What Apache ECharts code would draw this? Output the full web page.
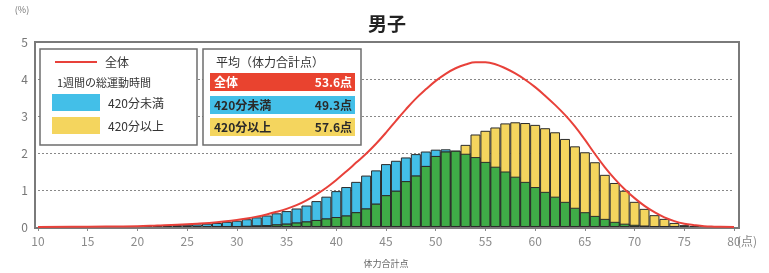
<!DOCTYPE html>
<html>
<head>
<meta charset="utf-8">
<script src="https://cdn.jsdelivr.net/npm/echarts@6/dist/echarts.min.js"></script>
<style>
  html, body { margin: 0; padding: 0; background: #fff; }
  #main { width: 769px; height: 273px; }
</style>
</head>
<body>
<div id="main"></div>
<script>
// 体力合計点 (x) と割合 % (y)
var scores = [18,19,20,21,22,23,24,25,26,27,28,29,30,31,32,33,34,35,36,37,38,39,40,41,42,43,44,45,46,47,
  48,49,50,51,52,53,54,55,56,57,58,59,60,61,62,63,64,65,66,67,68,69,70,71,72,73,74,75,76,77];
// 420分未満
var under420 = [0.01,0.01,0.02,0.02,0.03,0.04,0.05,0.06,0.07,0.09,0.11,0.14,0.17,0.21,0.26,0.31,0.37,0.43,0.50,0.58,
  0.70,0.82,0.97,1.08,1.22,1.39,1.53,1.70,1.79,1.88,1.97,2.04,2.09,2.10,2.06,1.98,1.89,1.76,1.63,1.50,
  1.36,1.22,1.08,0.95,0.82,0.68,0.52,0.40,0.30,0.22,0.14,0.09,0.06,0.04,0.02,0.01,0.01,0,0,0];
// 420分以上
var over420 = [0,0,0,0,0,0,0,0,0,0,0.01,0.01,0.02,0.03,0.04,0.05,0.07,0.09,0.12,0.15,
  0.19,0.23,0.27,0.31,0.40,0.50,0.63,0.86,0.98,1.24,1.39,1.65,1.92,2.04,2.06,2.22,2.50,2.60,2.69,2.80,
  2.83,2.81,2.76,2.67,2.56,2.38,2.18,2.02,1.75,1.41,1.19,0.98,0.68,0.49,0.32,0.22,0.11,0.05,0.02,0.01];
// 全体 (曲線)
var totalX = [10,15,20,22,24,26,28,30,31,32,33,34,35,36,37,38,39,40,41,42,43,44,45,46,47,48,49,50,51,52,53,54,55,
  56,57,58,59,60,61,62,63,64,65,66,67,68,69,70,71,72,73,74,75,76,77,78,80];
var totalY = [0,0.01,0.02,0.04,0.06,0.09,0.13,0.19,0.23,0.28,0.34,0.41,0.49,0.59,0.72,0.88,1.06,1.27,1.50,1.74,1.98,2.25,2.55,2.87,3.18,3.47,3.72,3.95,4.14,4.29,4.39,4.45,4.45,
  4.40,4.29,4.15,3.98,3.78,3.55,3.30,3.03,2.72,2.36,1.98,1.62,1.30,1.02,0.78,0.57,0.40,0.26,0.16,0.09,0.05,0.02,0.01,0];
var xTicks = [10,15,20,25,30,35,40,45,50,55,60,65,70,75,80];
var means = [['全体', '53.6点'], ['420分未満', '49.3点'], ['420分以上', '57.6点']];

var BLUE = '#43bfe8', YELLOW = '#f4d55e', GREEN = '#3fac47', RED = '#e8413a';
var FONT = '"Noto Sans CJK JP", sans-serif';

function pairs(xs, ys) {
  var out = [];
  for (var i = 0; i < xs.length; i++) {
    if (ys[i] > 0) out.push([xs[i], ys[i]]);
  }
  return out;
}
var overlap = scores.map(function (s, i) { return Math.min(under420[i], over420[i]); });

var barStyle = function (c) {
  return { color: c, borderColor: '#2b2b2b', borderWidth: 1 };
};

var myChart = echarts.init(document.getElementById('main'));

function txt(x, y, s, opts) {
  var st = Object.assign({ text: s, x: x, y: y, fill: '#333', font: '12px ' + FONT, verticalAlign: 'middle' }, opts || {});
  return { type: 'text', style: st, z: 20 };
}

var graphics = [
  // 外枠
  { type: 'rect', shape: { x: 35, y: 42, width: 704, height: 186 }, style: { fill: 'none', stroke: '#7a7a7a', lineWidth: 2 }, z: 5 },
  // 凡例1
  { type: 'rect', shape: { x: 40, y: 49, width: 157, height: 96 }, style: { fill: '#fff', stroke: '#6e6e6e', lineWidth: 1.5 }, z: 15 },
  { type: 'line', shape: { x1: 55, y1: 62, x2: 97, y2: 62 }, style: { stroke: RED, lineWidth: 2 }, z: 20 },
  txt(105, 62, '全体'),
  txt(57, 83, '1週間の総運動時間', { font: '11px ' + FONT }),
  { type: 'rect', shape: { x: 52, y: 94, width: 48, height: 17 }, style: { fill: BLUE }, z: 20 },
  txt(108, 103, '420分未満'),
  { type: 'rect', shape: { x: 52, y: 117, width: 48, height: 17 }, style: { fill: YELLOW }, z: 20 },
  txt(108, 126, '420分以上'),
  // 凡例2
  { type: 'rect', shape: { x: 203, y: 49, width: 158, height: 96 }, style: { fill: '#fff', stroke: '#6e6e6e', lineWidth: 1.5 }, z: 15 },
  txt(216, 62, '平均（体力合計点）'),
  { type: 'rect', shape: { x: 210, y: 73, width: 145, height: 18 }, style: { fill: '#e9432f' }, z: 20 },
  { type: 'rect', shape: { x: 210, y: 96, width: 145, height: 18 }, style: { fill: BLUE }, z: 20 },
  { type: 'rect', shape: { x: 210, y: 118, width: 145, height: 18 }, style: { fill: YELLOW }, z: 20 },
  // タイトル等
  txt(387, 24, '男子', { font: 'bold 19px ' + FONT, fill: '#222', align: 'center' }),
  txt(737, 241, '(点)', { font: '12px ' + FONT, fill: '#888' }),
  txt(22, 10, '(%)', { font: '9px ' + FONT, fill: '#777', align: 'center' })
];
var rowsY = [82, 105, 127];
means.forEach(function (m, i) {
  var col = i === 0 ? '#fff' : '#2a2a2a';
  graphics.push(txt(214, rowsY[i], m[0], { fill: col, font: 'bold 12px ' + FONT }));
  graphics.push(txt(352, rowsY[i], m[1], { fill: col, font: 'bold 12px ' + FONT, align: 'right' }));
});

var option = {
  animation: false,
  grid: { left: 38, right: 35, top: 42, bottom: 45 },
  xAxis: {
    type: 'value', min: 10, max: 80, interval: 5,
    name: '体力合計点', nameLocation: 'middle', nameGap: 32,
    nameTextStyle: { fontSize: 9, color: '#666', fontFamily: FONT },
    axisLine: { show: false },
    axisTick: { show: true, length: 4, lineStyle: { color: '#888' } },
    axisLabel: { color: '#8a8a8a', fontSize: 12, fontFamily: FONT, margin: 8 },
    splitLine: { show: false }
  },
  yAxis: {
    type: 'value', min: 0, max: 5, interval: 1,
    axisLine: { show: false },
    axisTick: { show: false },
    axisLabel: { color: '#777', fontSize: 12, fontFamily: FONT, margin: 10 },
    splitLine: { lineStyle: { color: '#888', type: [2, 2], width: 1 } }
  },
  graphic: graphics,
  series: [
    { type: 'bar', name: '420分未満', data: pairs(scores, under420), barWidth: 10, barGap: '-100%', itemStyle: barStyle(BLUE), z: 2 },
    { type: 'bar', name: '420分以上', data: pairs(scores, over420), barWidth: 10, barGap: '-100%', itemStyle: barStyle(YELLOW), z: 2 },
    { type: 'bar', name: '重なり', data: pairs(scores, overlap), barWidth: 10, barGap: '-100%', itemStyle: barStyle(GREEN), z: 3 },
    { type: 'line', name: '全体', data: totalX.map(function (x, i) { return [x, totalY[i]]; }), smooth: 0.4, showSymbol: false,
      lineStyle: { color: RED, width: 2 }, z: 6 }
  ]
};
myChart.setOption(option);
</script>
</body>
</html>
